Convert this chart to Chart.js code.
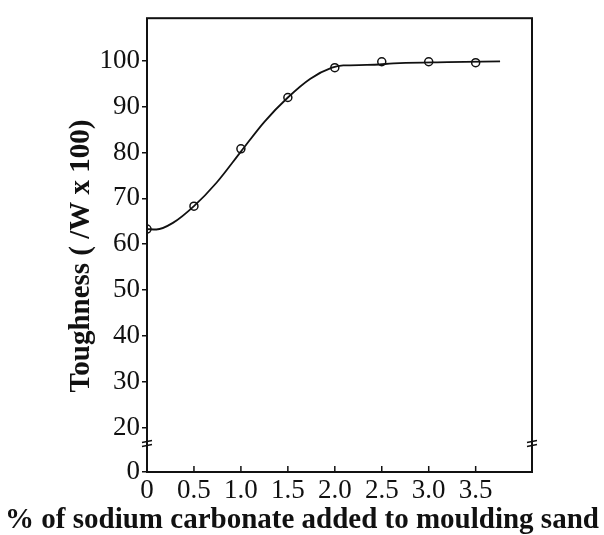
<!DOCTYPE html>
<html>
<head>
<meta charset="utf-8">
<script src="https://cdn.jsdelivr.net/npm/chart.js@4"></script>
<style>
  html, body { margin: 0; padding: 0; background: #fff; }
  #wrap { width: 604px; height: 535px; }
</style>
</head>
<body>
<div id="wrap"><canvas id="toughness"></canvas></div>
<script>
// measured points (% sodium carbonate vs toughness)
var pointX = [0, 0.5, 1.0, 1.5, 2.0, 2.5, 3.0, 3.5];
var pointY = [63.3, 68.3, 80.8, 92.0, 98.5, 99.8, 99.8, 99.6];

// fitted curve
var curveX = [0, 0.1, 0.28, 0.5, 0.74, 1.0, 1.25, 1.5, 1.74, 1.97, 2.09, 2.34, 2.69, 3.2, 3.76];
var curveY = [63.3, 63.2, 64.7, 68.3, 73.4, 80.2, 86.7, 92.0, 96.1, 98.5, 99.0, 99.1, 99.5, 99.7, 99.9];

// axis ticks (the y axis is broken: its bottom stands for 0)
var xTickValues = [0, 0.5, 1.0, 1.5, 2.0, 2.5, 3.0, 3.5];
var xTickLabels = ['0', '0.5', '1.0', '1.5', '2.0', '2.5', '3.0', '3.5'];
var yTickValues = [10.3, 20, 30, 40, 50, 60, 70, 80, 90, 100];
var yTickLabels = ['0', '20', '30', '40', '50', '60', '70', '80', '90', '100'];
var yBreakValue = 16.5;

var serif = 'Liberation Serif, Times New Roman, serif';

function toXY(xs, ys) {
    return xs.map(function (x, i) { return {x: x, y: ys[i]}; });
}

// frame, inward x ticks and the axis break marks
var framePlugin = {
    id: 'frame',
    afterDraw: function (chart) {
        var ctx = chart.ctx;
        var a = chart.chartArea;
        var xs = chart.scales.x;
        var ys = chart.scales.y;
        ctx.save();
        ctx.strokeStyle = '#111';
        ctx.lineWidth = 2;
        ctx.strokeRect(a.left, a.top, a.right - a.left, a.bottom - a.top);

        ctx.lineWidth = 1.5;
        xTickValues.forEach(function (v) {
            if (v === 0) return;
            var px = xs.getPixelForValue(v);
            ctx.beginPath();
            ctx.moveTo(px, a.bottom);
            ctx.lineTo(px, a.bottom - 6);
            ctx.stroke();
        });

        var by = ys.getPixelForValue(yBreakValue);
        [a.left, a.right].forEach(function (ax) {
            ctx.beginPath();
            ctx.moveTo(ax - 5, by - 1);
            ctx.lineTo(ax + 5, by - 3);
            ctx.moveTo(ax - 5, by + 3);
            ctx.lineTo(ax + 5, by + 1);
            ctx.stroke();
        });
        ctx.restore();
    }
};

var ctx = document.getElementById('toughness').getContext('2d');
var chart = new Chart(ctx, {
    type: 'scatter',
    data: {
        datasets: [{
            label: 'fit',
            data: toXY(curveX, curveY),
            showLine: true,
            borderColor: '#111',
            borderWidth: 1.8,
            pointRadius: 0,
            cubicInterpolationMode: 'monotone',
            fill: false
        }, {
            label: 'measured',
            data: toXY(pointX, pointY),
            showLine: false,
            pointStyle: 'circle',
            pointRadius: 4,
            pointBorderWidth: 1.5,
            borderColor: '#111',
            backgroundColor: '#fff'
        }]
    },
    options: {
        responsive: true,
        maintainAspectRatio: false,
        animation: false,
        layout: { padding: { top: 14, left: 0, right: 0, bottom: 0 } },
        plugins: {
            legend: { display: false },
            tooltip: { enabled: false },
            title: {
                display: true,
                position: 'bottom',
                text: '% of sodium carbonate added to moulding sand',
                color: '#111',
                font: { family: serif, size: 29, weight: 'bold' },
                padding: { top: -8.4, bottom: -3.4 }
            }
        },
        scales: {
            x: {
                type: 'linear',
                min: 0,
                max: 4.1,
                afterBuildTicks: function (s) {
                    s.ticks = xTickValues.map(function (v) { return {value: v}; });
                },
                afterFit: function (s) { s.height = 40; },
                grid: { display: false, drawTicks: false },
                border: { display: false },
                ticks: {
                    padding: 3,
                    color: '#111',
                    maxRotation: 0,
                    autoSkip: false,
                    font: { family: serif, size: 27 },
                    callback: function (v, i) { return xTickLabels[i]; }
                }
            },
            y: {
                min: 10.3,
                max: 109.3,
                afterBuildTicks: function (s) {
                    s.ticks = yTickValues.map(function (v) { return {value: v}; });
                },
                afterFit: function (s) { s.width = 147; },
                grid: { drawOnChartArea: false, tickLength: 5, color: '#111', lineWidth: 1.5 },
                border: { display: false },
                ticks: {
                    padding: 2,
                    color: '#111',
                    autoSkip: false,
                    font: { family: serif, size: 27 },
                    callback: function (v, i) { return yTickLabels[i]; }
                },
                title: {
                    display: true,
                    text: 'Toughness ( /W x 100)\u00a0\u00a0\u00a0',
                    color: '#111',
                    font: { family: serif, size: 29, weight: 'bold' },
                    padding: { top: 64, bottom: 0 }
                }
            },
            yRight: {
                position: 'right',
                min: 10.3,
                max: 109.3,
                afterFit: function (s) { s.width = 72; },
                grid: { display: false },
                border: { display: false },
                ticks: { display: false }
            }
        }
    },
    plugins: [framePlugin]
});
</script>
</body>
</html>
